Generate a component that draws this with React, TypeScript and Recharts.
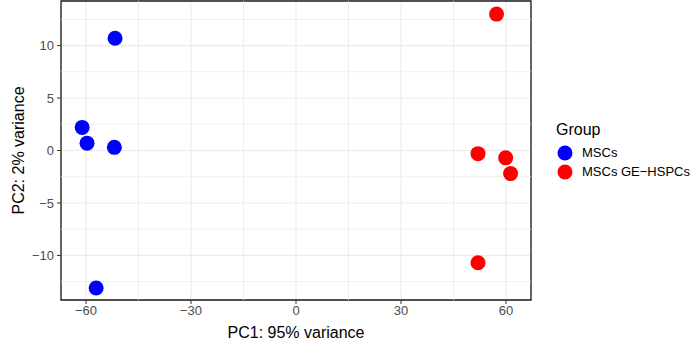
import React from 'react';
import {
  ScatterChart, Scatter, XAxis, YAxis, CartesianGrid,
  ReferenceLine, ReferenceArea, Legend,
} from 'recharts';

const groups = ['MSCs', 'MSCs GE\u2212HSPCs'];
const groupColors = ['#0000FF', '#FF0000'];

const mscPC1 = [-51.7, -61.1, -59.7, -51.9, -57.1];
const mscPC2 = [10.7, 2.2, 0.7, 0.3, -13.1];
const gePC1 = [57.3, 52.0, 59.9, 61.3, 52.0];
const gePC2 = [13.0, -0.3, -0.7, -2.2, -10.7];

const xTicks = [-60, -30, 0, 30, 60];
const yTicks = [-10, -5, 0, 5, 10];
const xMinor = [-45, -15, 15, 45];
const yMinor = [-12.5, -7.5, -2.5, 2.5, 7.5, 12.5];

const xDomain: [number, number] = [-67.14, 67.14];
const yDomain: [number, number] = [-14.25, 14.25];

const mscData = mscPC1.map((x, i) => ({ x, y: mscPC2[i] }));
const geData = gePC1.map((x, i) => ({ x, y: gePC2[i] }));

const font = '"Liberation Sans", Arial, Helvetica, sans-serif';
const fmt = (v: number) => String(v).replace('-', '\u2212');

const dot = (color: string) => (props: any) => (
  <circle cx={props.cx} cy={props.cy} r={7.5} fill={color} />
);

const renderLegend = () => (
  <div style={{ fontFamily: font, color: '#000' }}>
    <div style={{ fontSize: 16, lineHeight: '18px', marginBottom: 4 }}>Group</div>
    {groups.map((g, i) => (
      <div key={g} style={{ display: 'flex', alignItems: 'center', height: 19 }}>
        <svg width={18} height={18} style={{ marginRight: 8 }}>
          <circle cx={9} cy={9} r={7.5} fill={groupColors[i]} />
        </svg>
        <span style={{ fontSize: 13 }}>{g}</span>
      </div>
    ))}
  </div>
);

const App: React.FC = () => {
  return (
    <div style={{ position: 'absolute', left: 0, top: 0, background: '#fff' }}>
      <ScatterChart
        width={699}
        height={355}
        margin={{ top: 1, right: 168, bottom: 0, left: 0 }}
        style={{ fontFamily: font }}
      >
        <CartesianGrid stroke="#EBEBEB" strokeWidth={1.1} />
        {xMinor.map((v) => (
          <ReferenceLine key={'x' + v} x={v} stroke="#EBEBEB" strokeWidth={0.8} />
        ))}
        {yMinor.map((v) => (
          <ReferenceLine key={'y' + v} y={v} stroke="#EBEBEB" strokeWidth={0.8} />
        ))}
        <XAxis
          type="number"
          dataKey="x"
          domain={xDomain}
          ticks={xTicks}
          tickFormatter={fmt}
          axisLine={false}
          tickLine={{ stroke: '#333333' }}
          tickSize={4}
          tickMargin={2}
          height={55}
          tick={{ fill: '#4D4D4D', fontSize: 13 }}
          allowDataOverflow
          label={{ value: 'PC1: 95% variance', position: 'insideBottom', offset: 17, fill: '#000', fontSize: 16 }}
        />
        <YAxis
          type="number"
          dataKey="y"
          domain={yDomain}
          ticks={yTicks}
          tickFormatter={fmt}
          axisLine={false}
          tickLine={{ stroke: '#333333' }}
          tickSize={4}
          tickMargin={3}
          width={61}
          tick={{ fill: '#4D4D4D', fontSize: 13 }}
          allowDataOverflow
          label={{ value: 'PC2: 2% variance', angle: -90, position: 'insideLeft', offset: 18, fill: '#000', fontSize: 16, style: { textAnchor: 'middle' } }}
        />
        <Scatter name={groups[0]} data={mscData} fill={groupColors[0]} shape={dot(groupColors[0])} isAnimationActive={false} />
        <Scatter name={groups[1]} data={geData} fill={groupColors[1]} shape={dot(groupColors[1])} isAnimationActive={false} />
        <ReferenceArea
          x1={xDomain[0]}
          x2={xDomain[1]}
          y1={yDomain[0]}
          y2={yDomain[1]}
          fill="none"
          fillOpacity={0}
          stroke="#1A1A1A"
          strokeOpacity={1}
          strokeWidth={1.3}
        />
        <Legend
          layout="horizontal"
          verticalAlign="middle"
          content={renderLegend}
          wrapperStyle={{ left: 556, top: 121, width: 140 }}
        />
      </ScatterChart>
    </div>
  );
};

export default App;
